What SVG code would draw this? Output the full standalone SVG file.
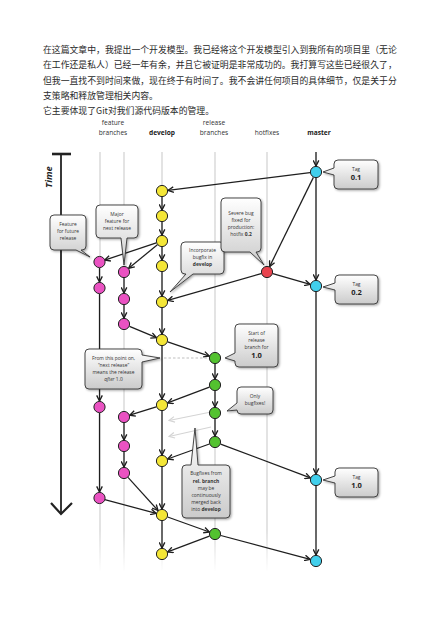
<svg xmlns="http://www.w3.org/2000/svg" width="440" height="620" viewBox="0 0 440 620">
<style>
.intro{font-family:"Noto Sans CJK SC","Noto Sans",sans-serif;font-size:8.85px;fill:#2a2a2a}
.col{font-family:"Open Sans","Liberation Sans",sans-serif;font-size:6.6px;fill:#333;text-anchor:middle}
.colb{font-weight:bold;fill:#1a1a1a}
.lane{stroke:url(#laneg);stroke-width:1.6;fill:none}
.cn{stroke:#1e1e1e;stroke-width:1.25;fill:none;marker-end:url(#ah)}
.lt{stroke:#d4d4d4;stroke-width:1.1;fill:none;marker-end:url(#ahl)}
.nd{stroke:#222;stroke-width:1}
.y{fill:#f4e637}.m{fill:#ea52c2}.g{fill:#53c22f}.c{fill:#41cfec}.r{fill:#e8434e}
.box{fill:url(#boxg);stroke:#333;stroke-width:0.9;filter:url(#sh)}
.bt{font-family:"Open Sans","Liberation Sans",sans-serif;font-size:4.9px;fill:#333;text-anchor:middle}
.b{font-weight:bold}
.tagn{font-family:"Open Sans","Liberation Sans",sans-serif;font-size:7.5px;font-weight:bold;fill:#222;text-anchor:middle}
</style>
<defs>
<linearGradient id="laneg" gradientUnits="userSpaceOnUse" x1="0" y1="150" x2="0" y2="572">
<stop offset="0" stop-color="#dcdcdc"/><stop offset="0.9" stop-color="#dcdcdc"/><stop offset="1" stop-color="#dcdcdc" stop-opacity="0"/>
</linearGradient>
<linearGradient id="boxg" x1="0" y1="0" x2="0" y2="1">
<stop offset="0" stop-color="#ffffff"/><stop offset="1" stop-color="#cbcbcb"/>
</linearGradient>
<filter id="sh" x="-20%" y="-20%" width="150%" height="150%">
<feDropShadow dx="1.2" dy="1.2" stdDeviation="0.8" flood-color="#000" flood-opacity="0.35"/>
</filter>
<marker id="ah" viewBox="0 0 10 10" refX="9" refY="5" markerWidth="7" markerHeight="7" markerUnits="userSpaceOnUse" orient="auto">
<path d="M1,1 L9,5 L1,9" fill="none" stroke="#1e1e1e" stroke-width="1.9"/>
</marker>
<marker id="ahl" viewBox="0 0 10 10" refX="9" refY="5" markerWidth="7" markerHeight="7" markerUnits="userSpaceOnUse" orient="auto">
<path d="M1,1 L9,5 L1,9" fill="none" stroke="#d4d4d4" stroke-width="1.7"/>
</marker>
</defs>
<rect width="440" height="620" fill="#ffffff"/>

<g id="intro">
<text class="intro" x="43" y="53.2">在这篇文章中，我提出一个开发模型。我已经将这个开发模型引入到我所有的项目里（无论</text>
<text class="intro" x="43" y="68.4">在工作还是私人）已经一年有余，并且它被证明是非常成功的。我打算写这些已经很久了，</text>
<text class="intro" x="43" y="83.7">但我一直找不到时间来做，现在终于有时间了。我不会讲任何项目的具体细节，仅是关于分</text>
<text class="intro" x="43" y="98.9">支策略和释放管理相关内容。</text>
<text class="intro" x="43" y="114.2">它主要体现了Git对我们源代码版本的管理。</text>
</g>

<g id="headers">
<text class="col" x="113" y="125.3">feature</text>
<text class="col" x="113" y="135.3">branches</text>
<text class="col colb" x="162" y="135.3">develop</text>
<text class="col" x="214" y="125.3">release</text>
<text class="col" x="214" y="135.3">branches</text>
<text class="col" x="267" y="135.3">hotfixes</text>
<text class="col colb" x="319" y="135.3">master</text>
</g>

<g id="lanes">
<line class="lane" x1="100" y1="152" x2="100" y2="572"/>
<line class="lane" x1="124" y1="152" x2="124" y2="572"/>
<line class="lane" x1="162" y1="152" x2="162" y2="572"/>
<line class="lane" x1="215" y1="152" x2="215" y2="572"/>
<line class="lane" x1="267" y1="152" x2="267" y2="572"/>
<line class="lane" x1="316" y1="152" x2="316" y2="572"/>
</g>

<g id="time">
<line x1="61" y1="154" x2="61" y2="513" stroke="#222" stroke-width="1.8"/>
<line x1="52" y1="154" x2="71" y2="154" stroke="#222" stroke-width="2.6"/>
<polyline points="51,503 61,514 72,503" fill="none" stroke="#222" stroke-width="2.2"/>
<text transform="translate(52,177) rotate(-90)" text-anchor="middle" font-family="'Open Sans','Liberation Sans',sans-serif" font-size="9.5" font-weight="bold" font-style="italic" fill="#222">Time</text>
</g>

<g id="connectors">
<line class="cn" x1="316" y1="152" x2="316" y2="166"/>
<line class="cn" x1="310" y1="172.7" x2="168" y2="190.3"/>
<line class="cn" x1="313.4" y1="177.4" x2="269.6" y2="266.6"/>
<line class="cn" x1="316" y1="178" x2="316" y2="280"/>
<line class="cn" x1="272.8" y1="273.6" x2="310.2" y2="284.4"/>
<line class="cn" x1="261.2" y1="273.6" x2="167.8" y2="300.4"/>
<line class="cn" x1="162" y1="197" x2="162" y2="210"/>
<line class="cn" x1="162" y1="222" x2="162" y2="235"/>
<line class="cn" x1="162" y1="247" x2="162" y2="260"/>
<line class="cn" x1="162" y1="272" x2="162" y2="296"/>
<line class="cn" x1="162" y1="308" x2="162" y2="334"/>
<line class="cn" x1="162" y1="346" x2="162" y2="399"/>
<line class="cn" x1="162" y1="411" x2="162" y2="455"/>
<line class="cn" x1="162" y1="467" x2="162" y2="509"/>
<line class="cn" x1="162" y1="521" x2="162" y2="548"/>
<line class="cn" x1="156.3" y1="242.9" x2="104.7" y2="260.1"/>
<line class="cn" x1="157.4" y1="244.8" x2="128.7" y2="268.2"/>
<line class="cn" x1="99.5" y1="268" x2="99.5" y2="282"/>
<line class="cn" x1="99.5" y1="294" x2="99.5" y2="401"/>
<line class="cn" x1="99.5" y1="413" x2="99.5" y2="492"/>
<line class="cn" x1="124" y1="278" x2="124" y2="293"/>
<line class="cn" x1="124" y1="305" x2="124" y2="318"/>
<line class="cn" x1="124" y1="423" x2="124" y2="440"/>
<line class="cn" x1="124" y1="452" x2="124" y2="467"/>
<line class="cn" x1="129.5" y1="326.3" x2="156.5" y2="337.7"/>
<line class="cn" x1="167.7" y1="341.9" x2="209.3" y2="356.1"/>
<line x1="164" y1="358" x2="208" y2="358" stroke="#b8b8b8" stroke-width="0.9" stroke-dasharray="2.5,2"/>
<line class="cn" x1="215" y1="364" x2="215" y2="379"/>
<line class="cn" x1="215" y1="391" x2="215" y2="407"/>
<line class="cn" x1="215" y1="419" x2="215" y2="436"/>
<line class="cn" x1="209.4" y1="387.1" x2="167.6" y2="402.9"/>
<line class="lt" x1="211" y1="412" x2="169" y2="420.5"/>
<line class="lt" x1="211" y1="427" x2="169" y2="436.5"/>
<line class="cn" x1="156.3" y1="406.8" x2="129.7" y2="415.2"/>
<line class="cn" x1="128" y1="477.4" x2="158" y2="510.5"/>
<line class="cn" x1="104.8" y1="499.6" x2="156.2" y2="513.4"/>
<line class="cn" x1="209.4" y1="444" x2="167.6" y2="459"/>
<line class="cn" x1="220.6" y1="444.1" x2="310.4" y2="477.9"/>
<line class="cn" x1="316" y1="292" x2="316" y2="474"/>
<line class="cn" x1="316" y1="486" x2="316" y2="555"/>
<line class="cn" x1="167.6" y1="517" x2="209.4" y2="532"/>
<line class="cn" x1="209.4" y1="536.1" x2="167.6" y2="551.9"/>
<line class="cn" x1="220.8" y1="535.5" x2="310.2" y2="559.4"/>
</g>

<g id="nodes">
<g id="master"><circle class="nd c" cx="316" cy="172" r="5.6"/><circle class="nd c" cx="316" cy="286" r="5.6"/><circle class="nd c" cx="316" cy="480" r="5.6"/><circle class="nd c" cx="316" cy="561" r="5.6"/></g>
<g id="hotfix"><circle class="nd r" cx="267" cy="272" r="5.6"/></g>
<g id="develop"><circle class="nd y" cx="162" cy="191" r="5.6"/><circle class="nd y" cx="162" cy="216" r="5.6"/><circle class="nd y" cx="162" cy="241" r="5.6"/><circle class="nd y" cx="162" cy="266" r="5.6"/><circle class="nd y" cx="162" cy="302" r="5.6"/><circle class="nd y" cx="162" cy="340" r="5.6"/><circle class="nd y" cx="162" cy="405" r="5.6"/><circle class="nd y" cx="162" cy="461" r="5.6"/><circle class="nd y" cx="162" cy="515" r="5.6"/><circle class="nd y" cx="162" cy="554" r="5.6"/></g>
<g id="feature1"><circle class="nd m" cx="99.5" cy="262" r="5.6"/><circle class="nd m" cx="99.5" cy="288" r="5.6"/><circle class="nd m" cx="99.5" cy="407" r="5.6"/><circle class="nd m" cx="99.5" cy="498" r="5.6"/></g>
<g id="feature2"><circle class="nd m" cx="124" cy="272" r="5.6"/><circle class="nd m" cx="124" cy="299" r="5.6"/><circle class="nd m" cx="124" cy="324" r="5.6"/><circle class="nd m" cx="124" cy="417" r="5.6"/><circle class="nd m" cx="124" cy="446" r="5.6"/><circle class="nd m" cx="124" cy="473" r="5.6"/></g>
<g id="release"><circle class="nd g" cx="215" cy="358" r="5.6"/><circle class="nd g" cx="215" cy="385" r="5.6"/><circle class="nd g" cx="215" cy="413" r="5.6"/><circle class="nd g" cx="215" cy="442" r="5.6"/><circle class="nd g" cx="215" cy="534" r="5.6"/></g>
</g>

<g id="callout-feature-future">
<path class="box" d="M54,215 H82 Q86,215 86,219 V246 Q86,250 82,250 H81 L90,257 L76,250 H54 Q50,250 50,246 V219 Q50,215 54,215 Z"/>
<text class="bt" x="68" y="226">Feature</text><text class="bt" x="68" y="233">for future</text><text class="bt" x="68" y="240">release</text>
</g>
<g id="callout-major">
<path class="box" d="M100,205 H134 Q138,205 138,209 V234 Q138,238 134,238 H127 L124,265 L121,238 H100 Q96,238 96,234 V209 Q96,205 100,205 Z"/>
<text class="bt" x="117" y="216">Major</text><text class="bt" x="117" y="223">feature for</text><text class="bt" x="117" y="230">next release</text>
</g>
<g id="callout-incorporate">
<path class="box" d="M185,242 H220 Q224,242 224,246 V270 Q224,274 220,274 H193 L170,292 L186,274 H185 Q181,274 181,270 V246 Q181,242 185,242 Z"/>
<text class="bt" x="202.5" y="252">Incorporate</text><text class="bt" x="202.5" y="259">bugfix in</text><text class="bt b" x="202.5" y="266">develop</text>
</g>
<g id="callout-severe">
<path class="box" d="M225,198 H257 Q261,198 261,202 V248 Q261,252 257,252 H256 L264,265 L250,252 H225 Q221,252 221,248 V202 Q221,198 225,198 Z"/>
<text class="bt" x="241" y="215">Severe bug</text><text class="bt" x="241" y="222">fixed for</text><text class="bt" x="241" y="229">production:</text><text class="bt" x="241" y="236">hotfix <tspan class="b">0.2</tspan></text>
</g>
<g id="callout-start-release">
<path class="box" d="M239,324 H274 Q278,324 278,328 V363 Q278,367 274,367 H239 Q235,367 235,363 V361 L225,358 L235,353 V328 Q235,324 239,324 Z"/>
<text class="bt" x="256.5" y="335">Start of</text><text class="bt" x="256.5" y="342">release</text><text class="bt" x="256.5" y="349">branch for</text><text class="tagn" x="256.5" y="358" font-size="6.8">1.0</text>
</g>
<g id="callout-only-bugfixes">
<path class="box" d="M241,387 H269 Q273,387 273,391 V410 Q273,414 269,414 H241 Q237,414 237,410 L227,411 L237,403 V391 Q237,387 241,387 Z"/>
<text class="bt" x="255" y="398">Only</text><text class="bt" x="255" y="405">bugfixes!</text>
</g>
<g id="callout-next-release">
<path class="box" d="M89,349 H138 Q142,349 142,353 V355 L160,358 L142,362 V385 Q142,389 138,389 H89 Q85,389 85,385 V353 Q85,349 89,349 Z"/>
<text class="bt" x="113.5" y="360">From this point on,</text><text class="bt" x="113.5" y="367">“next release”</text><text class="bt" x="113.5" y="374">means the release</text><text class="bt" x="113.5" y="381"><tspan font-style="italic">after</tspan> 1.0</text>
</g>
<g id="callout-bugfixes-merged">
<path class="box" d="M186,465 H191 L195,428 L198,465 H226 Q230,465 230,469 V514 Q230,518 226,518 H186 Q182,518 182,514 V469 Q182,465 186,465 Z"/>
<text class="bt" x="206" y="475">Bugfixes from</text><text class="bt b" x="206" y="482.5">rel. branch</text><text class="bt" x="206" y="490">may be</text><text class="bt" x="206" y="497">continuously</text><text class="bt" x="206" y="504">merged back</text><text class="bt" x="206" y="511">into <tspan class="b">develop</tspan></text>
</g>
<g id="tag-01">
<path class="box" d="M338,160 H374 Q378,160 378,164 V185 Q378,189 374,189 H338 Q334,189 334,185 V175 L323,172 L334,168 V164 Q334,160 338,160 Z"/>
<text class="bt" x="356" y="170.5">Tag</text><text class="tagn" x="356" y="180">0.1</text>
</g>
<g id="tag-02">
<path class="box" d="M339,275 H374 Q378,275 378,279 V300 Q378,304 374,304 H339 Q335,304 335,300 V290 L323,287 L335,283 V279 Q335,275 339,275 Z"/>
<text class="bt" x="356.5" y="285.5">Tag</text><text class="tagn" x="356.5" y="295">0.2</text>
</g>
<g id="tag-10">
<path class="box" d="M339,468 H374 Q378,468 378,472 V493 Q378,497 374,497 H339 Q335,497 335,493 V483 L323,480 L335,476 V472 Q335,468 339,468 Z"/>
<text class="bt" x="356.5" y="478.5">Tag</text><text class="tagn" x="356.5" y="488">1.0</text>
</g>
</svg>
